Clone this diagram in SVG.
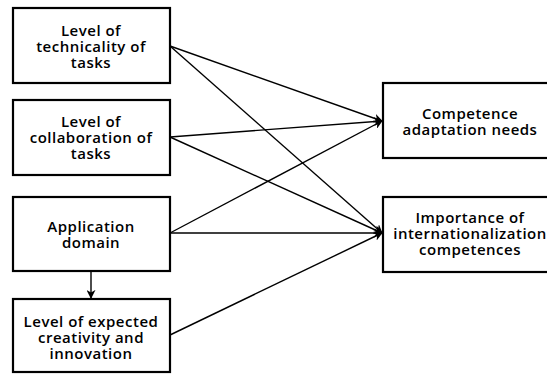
<svg xmlns="http://www.w3.org/2000/svg" width="547" height="374" viewBox="0 0 547 374">
  <style>
    .box { fill: #fff; stroke: #000; stroke-width: 2.2; }
    .lbl { font-family: "Open Sans", "Liberation Sans", sans-serif; font-weight: 600; font-size: 15px; letter-spacing: 0.5px; fill: #000; text-anchor: middle; }
    .edge { stroke: #000; stroke-width: 1.4; fill: none; marker-end: url(#arrow); }
  </style>
  <defs>
    <marker id="arrow" viewBox="0 0 10 10" refX="9" refY="5" markerWidth="9" markerHeight="9" markerUnits="userSpaceOnUse" orient="auto">
      <path d="M0,0 L10,5 L0,10 L3,5 Z" fill="#000"/>
    </marker>
  </defs>
  <rect width="547" height="374" fill="#fff"/>

  <g id="connectors">
    <line class="edge" x1="170" y1="46" x2="382" y2="121"/>
    <line class="edge" x1="170" y1="46" x2="382" y2="233"/>
    <line class="edge" x1="170" y1="137" x2="382" y2="121"/>
    <line class="edge" x1="170" y1="137" x2="382" y2="233"/>
    <line class="edge" x1="170" y1="233" x2="382" y2="121"/>
    <line class="edge" x1="170" y1="233" x2="382" y2="233"/>
    <line class="edge" x1="170" y1="335" x2="382" y2="233"/>
    <line class="edge" x1="91" y1="271" x2="91" y2="298"/>
  </g>

  <g id="technicality">
    <rect class="box" x="13" y="8" width="157" height="75"/>
    <text class="lbl" x="91" y="36">Level of</text>
    <text class="lbl" x="91" y="52">technicality of</text>
    <text class="lbl" x="91" y="68">tasks</text>
  </g>

  <g id="collaboration">
    <rect class="box" x="13" y="100" width="157" height="75"/>
    <text class="lbl" x="91" y="127">Level of</text>
    <text class="lbl" x="91" y="143">collaboration of</text>
    <text class="lbl" x="91" y="159">tasks</text>
  </g>

  <g id="domain">
    <rect class="box" x="13" y="197" width="157" height="74"/>
    <text class="lbl" x="91" y="232">Application</text>
    <text class="lbl" x="91" y="248">domain</text>
  </g>

  <g id="creativity">
    <rect class="box" x="13" y="299" width="157" height="73"/>
    <text class="lbl" x="91" y="327">Level of expected</text>
    <text class="lbl" x="91" y="343">creativity and</text>
    <text class="lbl" x="91" y="359">innovation</text>
  </g>

  <g id="adaptation">
    <rect class="box" x="383" y="83" width="180" height="75"/>
    <text class="lbl" x="470" y="119">Competence</text>
    <text class="lbl" x="470" y="135">adaptation needs</text>
  </g>

  <g id="internationalization">
    <rect class="box" x="383" y="197" width="180" height="75"/>
    <text class="lbl" x="470" y="223">Importance of</text>
    <text class="lbl" x="470" y="239">internationalization</text>
    <text class="lbl" x="470" y="255">competences</text>
  </g>
</svg>
